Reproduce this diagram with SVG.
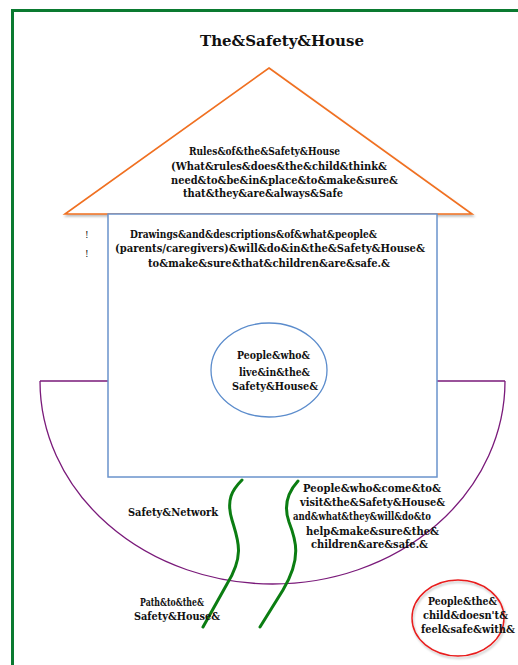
<svg xmlns="http://www.w3.org/2000/svg" width="518" height="665" viewBox="0 0 518 665">
<defs>
<style>
.t{font-family:"DejaVu Serif","Liberation Serif",serif;font-weight:bold;font-size:11.5px;fill:#111}
.title{font-size:14.5px}
.path{fill:none;stroke:#0b7d12;stroke-width:3;stroke-linecap:round}
</style>
<filter id="sh" x="-5%" y="-5%" width="110%" height="115%"><feDropShadow dx="1" dy="2" stdDeviation="1.2" flood-color="#000" flood-opacity="0.25"/></filter>
</defs>
<rect width="518" height="665" fill="#fff"/>
<g id="frame"><path d="M12.5,665 V10.5 H518" fill="none" stroke="#0a7a30" stroke-width="3"/></g>
<g id="title"><text class="t title" x="200" y="46" textLength="164" lengthAdjust="spacingAndGlyphs">The&amp;Safety&amp;House</text></g>
<g id="network">
<path d="M40,381 H108 M437,381 H505" fill="none" stroke="#7a1a7a" stroke-width="1.3"/>
<path d="M40,381 A232.5,203 0 0 0 505,381" fill="none" stroke="#7a1a7a" stroke-width="1.3"/>
</g>
<g id="roof">
<polygon points="269,68 472,214 65,214" fill="#fff" stroke="#f07020" stroke-width="1.6" filter="url(#sh)"/>
<text class="t" x="189" y="155" textLength="151" lengthAdjust="spacingAndGlyphs">Rules&amp;of&amp;the&amp;Safety&amp;House</text>
<text class="t" x="171" y="170" textLength="216" lengthAdjust="spacingAndGlyphs">(What&amp;rules&amp;does&amp;the&amp;child&amp;think&amp;</text>
<text class="t" x="171" y="184" textLength="227" lengthAdjust="spacingAndGlyphs">need&amp;to&amp;be&amp;in&amp;place&amp;to&amp;make&amp;sure&amp;</text>
<text class="t" x="183" y="197" textLength="160" lengthAdjust="spacingAndGlyphs">that&amp;they&amp;are&amp;always&amp;Safe</text>
</g>
<g id="house">
<rect x="108" y="214" width="329" height="263" fill="#fff" stroke="#6a93cc" stroke-width="1.5"/>
<text class="t" x="130" y="238" textLength="247" lengthAdjust="spacingAndGlyphs">Drawings&amp;and&amp;descriptions&amp;of&amp;what&amp;people&amp;</text>
<text class="t" x="115" y="252" textLength="310" lengthAdjust="spacingAndGlyphs">(parents/caregivers)&amp;will&amp;do&amp;in&amp;the&amp;Safety&amp;House&amp;</text>
<text class="t" x="148" y="267" textLength="242" lengthAdjust="spacingAndGlyphs">to&amp;make&amp;sure&amp;that&amp;children&amp;are&amp;safe.&amp;</text>
</g>
<g id="marks">
<text class="t" x="85" y="238" style="font-size:9px;font-weight:normal">!</text>
<text class="t" x="85" y="257" style="font-size:9px;font-weight:normal">!</text>
</g>
<g id="residents">
<ellipse cx="269" cy="370" rx="58" ry="47" fill="#fff" stroke="#5b8ccc" stroke-width="1.3"/>
<text class="t" x="237" y="359" textLength="73" lengthAdjust="spacingAndGlyphs">People&amp;who&amp;</text>
<text class="t" x="239" y="376" textLength="71" lengthAdjust="spacingAndGlyphs">live&amp;in&amp;the&amp;</text>
<text class="t" x="232" y="390" textLength="86" lengthAdjust="spacingAndGlyphs">Safety&amp;House&amp;</text>
</g>
<g id="safety-network-label">
<text class="t" x="128" y="516" textLength="90" lengthAdjust="spacingAndGlyphs">Safety&amp;Network</text>
</g>
<g id="visitors">
<text class="t" x="303" y="492" textLength="138" lengthAdjust="spacingAndGlyphs">People&amp;who&amp;come&amp;to&amp;</text>
<text class="t" x="300" y="506" textLength="145" lengthAdjust="spacingAndGlyphs">visit&amp;the&amp;Safety&amp;House&amp;</text>
<text class="t" x="293" y="520" textLength="138" lengthAdjust="spacingAndGlyphs">and&amp;what&amp;they&amp;will&amp;do&amp;to</text>
<text class="t" x="306" y="535" textLength="133" lengthAdjust="spacingAndGlyphs">help&amp;make&amp;sure&amp;the&amp;</text>
<text class="t" x="311" y="548" textLength="117" lengthAdjust="spacingAndGlyphs">children&amp;are&amp;safe.&amp;</text>
</g>
<g id="connectors">
<path class="path" d="M242,480 C232,490 226,500 232,520 C238,540 245,555 227,584 L203,627"/>
<path class="path" d="M298,481 C288,492 283,505 289,522 C296,540 302,558 283,590 L260,627"/>
</g>
<g id="path-label">
<text class="t" x="140" y="606" textLength="64" lengthAdjust="spacingAndGlyphs">Path&amp;to&amp;the&amp;</text>
<text class="t" x="134" y="620" textLength="86" lengthAdjust="spacingAndGlyphs">Safety&amp;House&amp;</text>
</g>
<g id="unsafe-people">
<ellipse cx="458" cy="618" rx="46" ry="38" fill="none" stroke="#e81c1c" stroke-width="1.4" filter="url(#sh)"/>
<text class="t" x="428" y="605" textLength="69" lengthAdjust="spacingAndGlyphs">People&amp;the&amp;</text>
<text class="t" x="423" y="619" textLength="85" lengthAdjust="spacingAndGlyphs">child&amp;doesn't&amp;</text>
<text class="t" x="421" y="633" textLength="94" lengthAdjust="spacingAndGlyphs">feel&amp;safe&amp;with&amp;</text>
</g>
</svg>
